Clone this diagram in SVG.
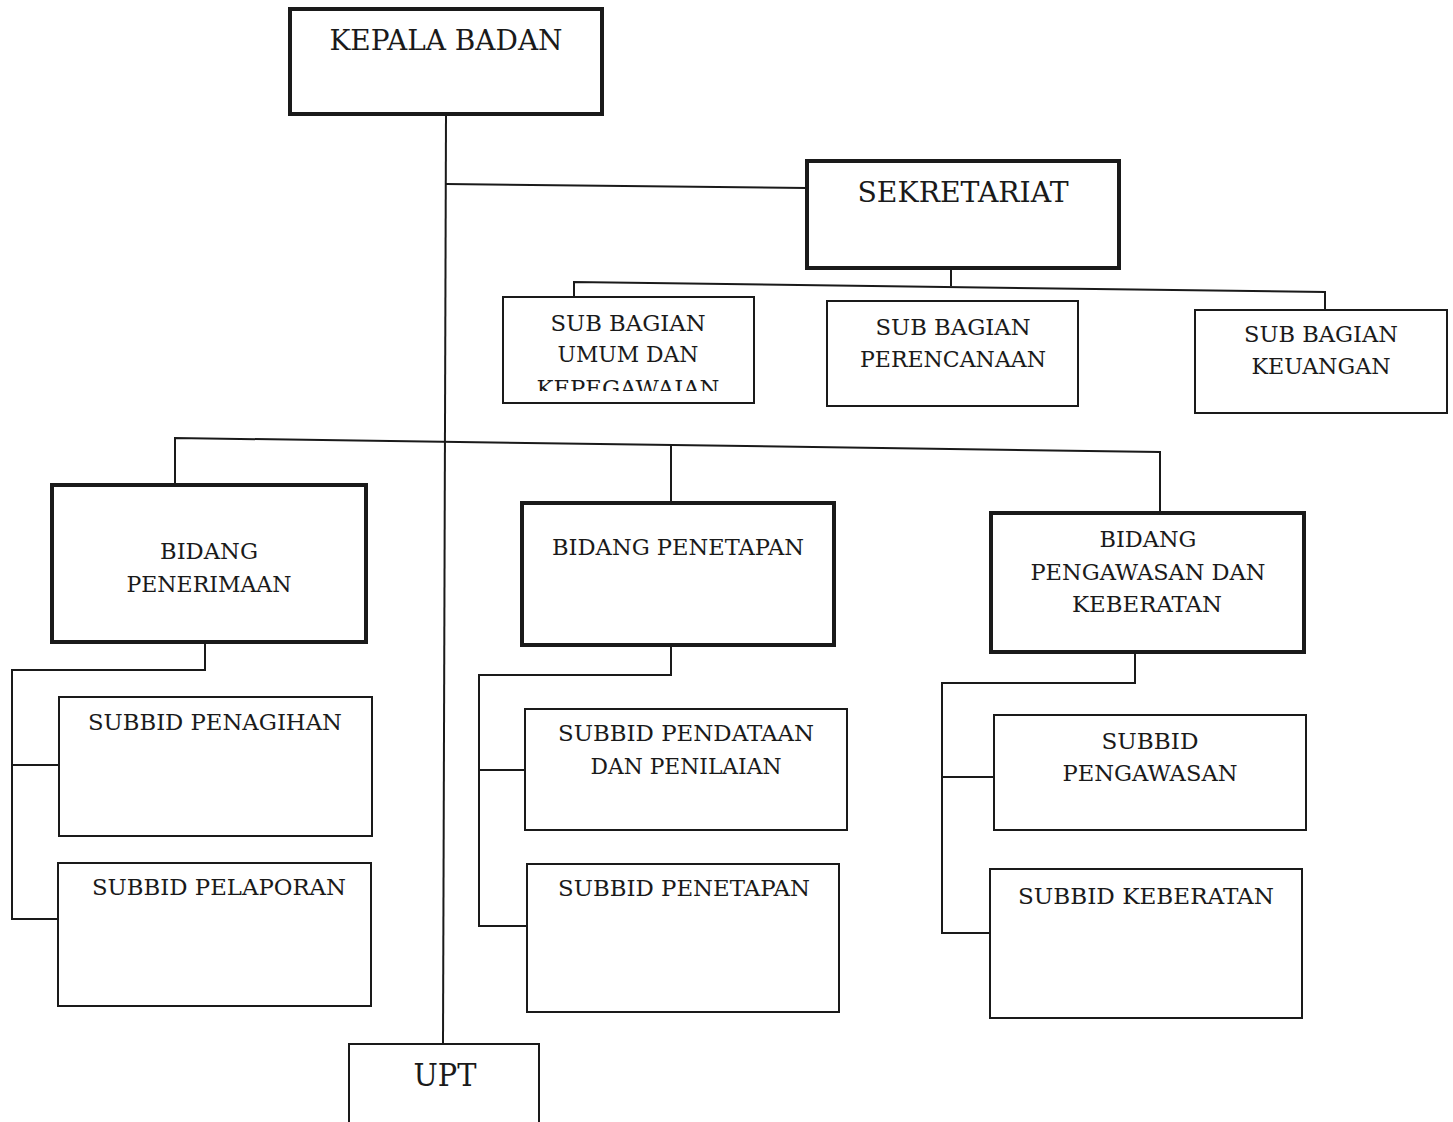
<svg xmlns="http://www.w3.org/2000/svg" width="1453" height="1122" viewBox="0 0 1453 1122">
<style>
.thick{fill:#fff;stroke:#1a1a1a;stroke-width:4}
.thin{fill:#fff;stroke:#1a1a1a;stroke-width:2}
.c{fill:none;stroke:#1a1a1a;stroke-width:2}
text{font-family:"DejaVu Serif","Liberation Serif",serif;fill:#1a1a1a;text-anchor:middle}
.h{font-size:28px}
.s{font-size:23px}
</style>
<defs>
<clipPath id="clipUmum"><rect x="503" y="297" width="251" height="94"/></clipPath>
</defs>
<rect width="1453" height="1122" fill="#fff"/>
<g id="connectors">
<polyline class="c" points="446,114 443,1043"/>
<polyline class="c" points="446,184 807,188"/>
<polyline class="c" points="951,268 951,286"/>
<polyline class="c" points="574,297 574,282 1325,292 1325,311"/>
<polyline class="c" points="175,484 175,438 1160,452 1160,512"/>
<polyline class="c" points="671,444 671,503"/>
<polyline class="c" points="205,642 205,670 12,670 12,919 58,919"/>
<polyline class="c" points="12,765 59,765"/>
<polyline class="c" points="671,645 671,675 479,675 479,926 527,926"/>
<polyline class="c" points="479,770 525,770"/>
<polyline class="c" points="1135,652 1135,683 942,683 942,933 990,933"/>
<polyline class="c" points="942,777 994,777"/>
</g>
<g id="kepala-badan">
<rect class="thick" x="290" y="9" width="312" height="105"/>
<text class="h" x="446" y="50" textLength="233" lengthAdjust="spacingAndGlyphs">KEPALA BADAN</text>
</g>
<g id="sekretariat">
<rect class="thick" x="807" y="161" width="312" height="107"/>
<text class="h" x="963" y="202" textLength="211" lengthAdjust="spacingAndGlyphs">SEKRETARIAT</text>
</g>
<g id="sub-bagian-umum">
<rect class="thin" x="503" y="297" width="251" height="106"/>
<text class="s" x="628" y="331" textLength="155" lengthAdjust="spacingAndGlyphs">SUB BAGIAN</text>
<text class="s" x="628" y="362" textLength="141" lengthAdjust="spacingAndGlyphs">UMUM DAN</text>
<text class="s" x="628" y="396" textLength="183" lengthAdjust="spacingAndGlyphs" clip-path="url(#clipUmum)">KEPEGAWAIAN</text>
</g>
<g id="sub-bagian-perencanaan">
<rect class="thin" x="827" y="301" width="251" height="105"/>
<text class="s" x="953" y="335" textLength="155" lengthAdjust="spacingAndGlyphs">SUB BAGIAN</text>
<text class="s" x="953" y="367" textLength="186" lengthAdjust="spacingAndGlyphs">PERENCANAAN</text>
</g>
<g id="sub-bagian-keuangan">
<rect class="thin" x="1195" y="310" width="252" height="103"/>
<text class="s" x="1321" y="342" textLength="154" lengthAdjust="spacingAndGlyphs">SUB BAGIAN</text>
<text class="s" x="1321" y="374" textLength="139" lengthAdjust="spacingAndGlyphs">KEUANGAN</text>
</g>
<g id="bidang-penerimaan">
<rect class="thick" x="52" y="485" width="314" height="157"/>
<text class="s" x="209" y="559" textLength="98" lengthAdjust="spacingAndGlyphs">BIDANG</text>
<text class="s" x="209" y="592" textLength="165" lengthAdjust="spacingAndGlyphs">PENERIMAAN</text>
</g>
<g id="bidang-penetapan">
<rect class="thick" x="522" y="503" width="312" height="142"/>
<text class="s" x="678" y="555" textLength="252" lengthAdjust="spacingAndGlyphs">BIDANG PENETAPAN</text>
</g>
<g id="bidang-pengawasan">
<rect class="thick" x="991" y="513" width="313" height="139"/>
<text class="s" x="1148" y="547" textLength="97" lengthAdjust="spacingAndGlyphs">BIDANG</text>
<text class="s" x="1148" y="580" textLength="235" lengthAdjust="spacingAndGlyphs">PENGAWASAN DAN</text>
<text class="s" x="1147" y="612" textLength="150" lengthAdjust="spacingAndGlyphs">KEBERATAN</text>
</g>
<g id="subbid-penagihan">
<rect class="thin" x="59" y="697" width="313" height="139"/>
<text class="s" x="215" y="730" textLength="254" lengthAdjust="spacingAndGlyphs">SUBBID PENAGIHAN</text>
</g>
<g id="subbid-pelaporan">
<rect class="thin" x="58" y="863" width="313" height="143"/>
<text class="s" x="219" y="895" textLength="254" lengthAdjust="spacingAndGlyphs">SUBBID PELAPORAN</text>
</g>
<g id="subbid-pendataan">
<rect class="thin" x="525" y="709" width="322" height="121"/>
<text class="s" x="686" y="741" textLength="256" lengthAdjust="spacingAndGlyphs">SUBBID PENDATAAN</text>
<text class="s" x="686" y="774" textLength="191" lengthAdjust="spacingAndGlyphs">DAN PENILAIAN</text>
</g>
<g id="subbid-penetapan">
<rect class="thin" x="527" y="864" width="312" height="148"/>
<text class="s" x="684" y="896" textLength="252" lengthAdjust="spacingAndGlyphs">SUBBID PENETAPAN</text>
</g>
<g id="subbid-pengawasan">
<rect class="thin" x="994" y="715" width="312" height="115"/>
<text class="s" x="1150" y="749" textLength="97" lengthAdjust="spacingAndGlyphs">SUBBID</text>
<text class="s" x="1150" y="781" textLength="175" lengthAdjust="spacingAndGlyphs">PENGAWASAN</text>
</g>
<g id="subbid-keberatan">
<rect class="thin" x="990" y="869" width="312" height="149"/>
<text class="s" x="1146" y="904" textLength="256" lengthAdjust="spacingAndGlyphs">SUBBID KEBERATAN</text>
</g>
<g id="upt">
<rect class="thin" x="349" y="1044" width="190" height="90"/>
<text x="445" y="1086" style="font-size:31px" textLength="63" lengthAdjust="spacingAndGlyphs">UPT</text>
</g>
</svg>
